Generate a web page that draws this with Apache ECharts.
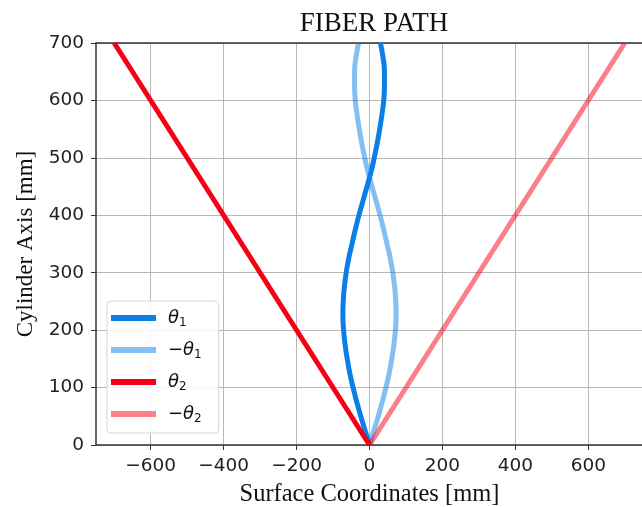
<!DOCTYPE html>
<html>
<head>
<meta charset="utf-8">
<script src="https://cdn.jsdelivr.net/npm/echarts@6/dist/echarts.min.js"></script>
<style>
  html, body { margin: 0; padding: 0; background: #fff; }
  #main { width: 642px; height: 507px; }
</style>
</head>
<body>
<div id="main"></div>
<script>
// cylinder axis positions (mm) where the curves were read
var axisPos = [0, 25, 50, 75, 100, 125, 150, 175, 200, 225, 250, 275, 300, 325, 350,
  375, 400, 425, 450, 475, 500, 525, 550, 575, 600, 625, 650, 675, 700];
// surface coordinate of theta1 path
var theta1 = [0, -12, -24, -35, -45, -54, -61, -67, -71, -73, -72, -69, -64, -57, -48,
  -39, -29, -18, -7, 4, 13, 21, 28, 34, 39, 41, 41, 37, 30];
// surface coordinate of -theta1 path
var negTheta1 = [0, 12, 24, 35, 45, 54, 61, 67, 71, 73, 72, 69, 64, 57, 48,
  39, 29, 18, 7, -4, -13, -21, -28, -34, -39, -41, -41, -37, -30];
// straight paths
var linePos = [0, 700];
var theta2 = [0, -700];
var negTheta2 = [0, 700];

var xTicks = [-600, -400, -200, 0, 200, 400, 600];

function pairs(xs, ys) {
  var out = [];
  for (var i = 0; i < xs.length; i++) out.push([xs[i], ys[i]]);
  return out;
}

var names = ['θ1', '−θ1', 'θ2', '−θ2'];
var legendText = {
  'θ1': '{m|θ}{s|1}',
  '−θ1': '{m|−θ}{s|1}',
  'θ2': '{m|θ}{s|2}',
  '−θ2': '{m|−θ}{s|2}'
};

var chart = echarts.init(document.getElementById('main'));
chart.setOption({
  animation: false,
  backgroundColor: '#fff',
  title: {
    text: 'FIBER PATH',
    left: 369, top: 5, textAlign: 'center',
    textStyle: { fontFamily: 'Liberation Serif', fontSize: 27, fontWeight: 'normal', color: '#111' }
  },
  grid: { left: 96, top: 43, width: 547, height: 402, outerBoundsMode: 'none', containLabel: false },
  legend: {
    data: names,
    orient: 'vertical',
    left: 107, top: 301,
    padding: [8, 17, 8, 4],
    itemWidth: 45, itemHeight: 6,
    itemGap: 12,
    icon: 'rect',
    backgroundColor: 'rgba(255,255,255,0.85)',
    borderColor: '#d5d5d5', borderWidth: 1, borderRadius: 4,
    formatter: function (n) { return legendText[n]; },
    textStyle: {
      rich: {
        m: { fontFamily: 'DejaVu Sans', fontStyle: 'italic', fontSize: 18, color: '#111', padding: [0, 0, 0, 7] },
        s: { fontFamily: 'DejaVu Sans', fontSize: 12, color: '#111', padding: [10, 0, 0, 0] }
      }
    }
  },
  xAxis: [{
    type: 'value', min: -750, max: 750,
    name: 'Surface Coordinates [mm]', nameLocation: 'middle', nameGap: 37,
    nameTextStyle: { fontFamily: 'Liberation Serif', fontSize: 24.5, color: '#111' },
    axisLine: { show: true, lineStyle: { color: '#333', width: 1.5 } },
    axisTick: { show: true, length: 5, customValues: xTicks, lineStyle: { color: '#333' } },
    axisLabel: { customValues: xTicks, margin: 12, fontFamily: 'DejaVu Sans', fontSize: 18.5, color: '#222',
      formatter: function (v) { return String(v).replace('-', '−'); } },
    splitLine: { show: true, lineStyle: { color: '#b8b8b8', width: 1 } }
  }, {
    type: 'value', min: -750, max: 750, position: 'top',
    axisLine: { show: true, onZero: false, lineStyle: { color: '#333', width: 1.5 } },
    axisTick: { show: false }, axisLabel: { show: false }, splitLine: { show: false }
  }],
  yAxis: {
    type: 'value', min: 0, max: 700, interval: 100,
    name: 'Cylinder Axis [mm]', nameLocation: 'middle', nameGap: 59,
    nameTextStyle: { fontFamily: 'Liberation Serif', fontSize: 23, color: '#111' },
    axisLine: { show: true, onZero: false, lineStyle: { color: '#333', width: 1.5 } },
    axisTick: { show: true, length: 5, lineStyle: { color: '#333' } },
    axisLabel: { margin: 12, fontFamily: 'DejaVu Sans', fontSize: 18.5, color: '#222' },
    splitLine: { show: true, lineStyle: { color: '#b8b8b8', width: 1 } }
  },
  series: [{
    name: 'θ1', type: 'line', data: pairs(theta1, axisPos), smooth: true, showSymbol: false,
    color: '#0a7fe8', lineStyle: { width: 5, color: '#0a7fe8' }
  }, {
    name: '−θ1', type: 'line', data: pairs(negTheta1, axisPos), smooth: true, showSymbol: false,
    color: '#85c0f3', lineStyle: { width: 5, color: '#0a7fe8', opacity: 0.5 }
  }, {
    name: 'θ2', type: 'line', data: pairs(theta2, linePos), showSymbol: false,
    color: '#f50014', lineStyle: { width: 5, color: '#f50014' }
  }, {
    name: '−θ2', type: 'line', data: pairs(negTheta2, linePos), showSymbol: false,
    color: '#fa8089', lineStyle: { width: 5, color: '#f50014', opacity: 0.5 }
  }]
});
</script>
</body>
</html>
